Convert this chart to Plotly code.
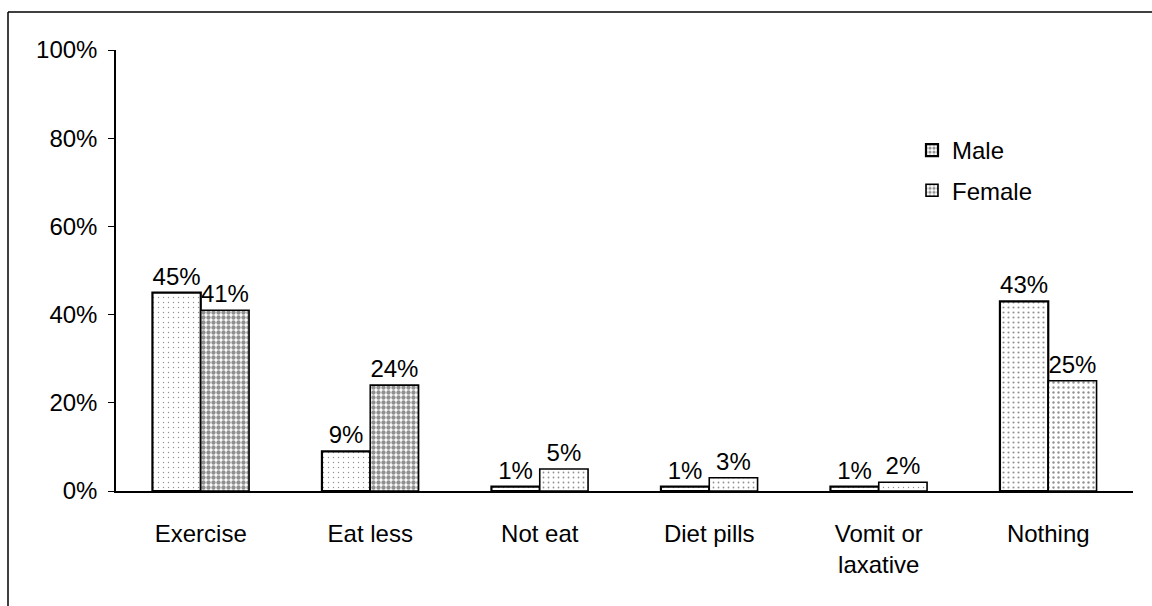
import plotly.graph_objects as go

# Dieting behaviour by gender (percent of respondents)
categories = ["Exercise", "Eat less", "Not eat", "Diet pills", "Vomit or<br>laxative", "Nothing"]
male = [45, 9, 1, 1, 1, 43]
female = [41, 24, 5, 3, 2, 25]
y_ticks = [0, 20, 40, 60, 80, 100]

W, H = 1152, 606
L, R, T, B = 116, 19, 50, 115
FONT = "Liberation Sans, Arial, sans-serif"
FS = 24

# stippled fills: male light, female denser on the first two groups
male_solidity = [0.06, 0.06, 0.06, 0.06, 0.06, 0.14]
female_solidity = [0.6, 0.6, 0.1, 0.1, 0.06, 0.18]

fig = go.Figure()
fig.add_trace(go.Bar(
    name="Male", x=categories, y=male,
    text=[f"{v}%" for v in male], textposition="outside",
    cliponaxis=False, constraintext="none",
    textfont=dict(size=FS, color="black", family=FONT),
    marker=dict(color="white", line=dict(color="black", width=2.2),
                pattern=dict(shape=".", fgcolor="#222", bgcolor="white",
                             size=5, solidity=male_solidity)),
    legendgroup="m",
))
fig.add_trace(go.Bar(
    name="Female", x=categories, y=female,
    text=[f"{v}%" for v in female], textposition="outside",
    cliponaxis=False, constraintext="none",
    textfont=dict(size=FS, color="black", family=FONT),
    marker=dict(color="white", line=dict(color="black", width=1.6),
                pattern=dict(shape=".", fgcolor="#222", bgcolor="white",
                             size=5, solidity=female_solidity)),
    legendgroup="f",
))

pw = W - L - R
ph = H - T - B


def px_x(x):
    return (x - L) / pw


def px_y(y):
    return (H - B - y) / ph


# outer frame (top and left edges)
fig.add_shape(type="line", xref="paper", yref="paper",
              x0=px_x(8), x1=px_x(W), y0=px_y(12), y1=px_y(12),
              line=dict(color="black", width=1.5))
fig.add_shape(type="line", xref="paper", yref="paper",
              x0=px_x(8), x1=px_x(8), y0=px_y(12), y1=px_y(H),
              line=dict(color="black", width=1.5))

fig.update_layout(
    width=W, height=H,
    margin=dict(l=L, r=R, t=T, b=B, pad=0),
    paper_bgcolor="white", plot_bgcolor="white",
    barmode="group", bargap=0.43, bargroupgap=0,
    font=dict(family=FONT, size=FS, color="black"),
    showlegend=True,
    legend=dict(x=px_x(912), y=px_y(128), xanchor="left", yanchor="top",
                bgcolor="rgba(0,0,0,0)", font=dict(size=FS, family=FONT),
                tracegroupgap=6, traceorder="grouped"),
    xaxis=dict(showline=True, linecolor="black", linewidth=1.5,
               ticks="", ticklabelstandoff=20, showgrid=False,
               tickfont=dict(size=FS, family=FONT)),
    yaxis=dict(range=[0, 100], tickmode="array", tickvals=y_ticks,
               ticktext=[f"{v}%" for v in y_ticks],
               showline=True, linecolor="black", linewidth=1.5,
               ticks="outside", ticklen=6, tickcolor="black",
               ticklabelstandoff=6, showgrid=False, zeroline=False,
               tickfont=dict(size=FS, family=FONT)),
)

fig.write_html("out.html")
